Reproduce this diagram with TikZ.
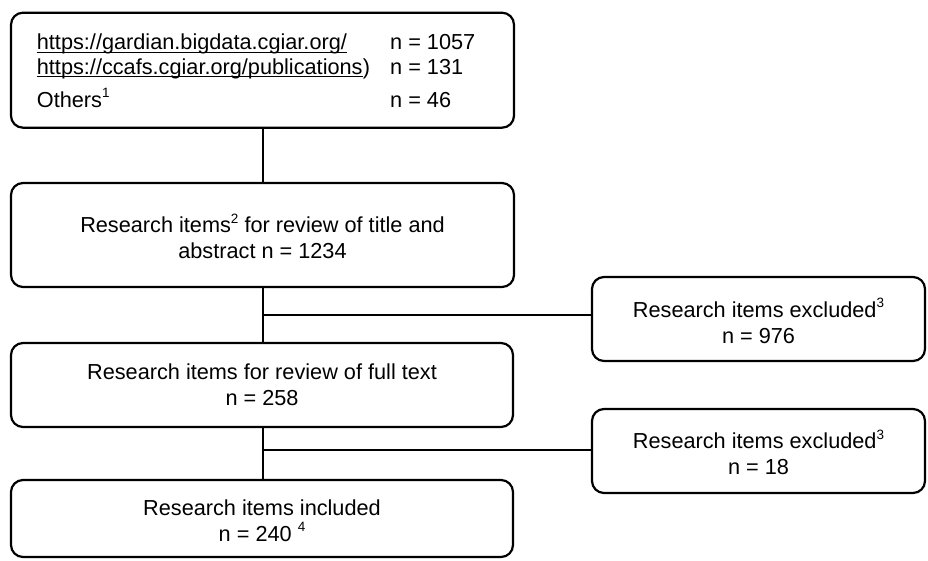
\documentclass[tikz,border=0pt]{standalone}
\usepackage{fontspec}
\setmainfont{Liberation Sans}
\usetikzlibrary{calc}
\newcommand{\supnum}[1]{\raisebox{9.5pt}{\fontsize{13.5}{14}\selectfont #1}}
\begin{document}
\begin{tikzpicture}[x=1pt,y=-1pt,
  box/.style={draw=black, line width=2.2pt, rounded corners=12pt, inner sep=0pt},
  txt/.style={inner sep=0pt, font=\fontsize{21.7}{26}\selectfont},
  ctxt/.style={txt, anchor=base},
  link/.style={draw=black, line width=2.2pt},
  uline/.style={draw=black, line width=1.1pt}]
\useasboundingbox (0,0) rectangle (928,560);
% boxes
\node[box, minimum width=503pt, minimum height=115pt] (A) at (262.5,70.2) {};
\node[box, minimum width=503pt, minimum height=104pt] (B) at (262.5,235) {};
\node[box, minimum width=502pt, minimum height=84pt] (C) at (262,385) {};
\node[box, minimum width=502pt, minimum height=77pt] (D) at (262,518.5) {};
\node[box, minimum width=333pt, minimum height=84pt] (E) at (758.5,319) {};
\node[box, minimum width=333pt, minimum height=84pt] (F) at (758.5,451) {};
% centred texts
\node[ctxt] (B1) at (262.5,232.7) {Research items\supnum{2} for review of title and};
\node[ctxt] (B2) at (262.5,258.3) {abstract n = 1234};
\node[ctxt] (C1) at (262,379) {Research items for review of full text};
\node[ctxt] (C2) at (262,405) {n = 258};
\node[ctxt] (D1) at (262,515) {Research items included};
\node[ctxt] (D2) at (262,541) {n = 240 \supnum{4}};
\node[ctxt] (E1) at (758.5,317.3) {Research items excluded\supnum{3}};
\node[ctxt] (E2) at (758.5,343.3) {n = 976};
\node[ctxt] (F1) at (758.5,448.5) {Research items excluded\supnum{3}};
\node[ctxt] (F2) at (758.5,474.5) {n = 18};
% text in first box
\node[txt, anchor=base west] (a1) at (36.7,49.5) {https://gardian.bigdata.cgiar.org/};
\node[txt, anchor=base west] (a2) at (36.7,74) {https://ccafs.cgiar.org/publications};
\node[txt, anchor=base west] (a2p) at (a2.base east) {)};
\node[txt, anchor=base west] (a3) at (36.7,107) {Others\supnum{1}};
\node[txt, anchor=base west] (n1) at (390,49.5) {n = 1057};
\node[txt, anchor=base west] (n2) at (390,74) {n = 131};
\node[txt, anchor=base west] (n3) at (390,107) {n = 46};
\draw[uline] ($(a1.base west)+(0,2.6)$) -- ($(a1.base east)+(0,2.6)$);
\draw[uline] ($(a2.base west)+(0,2.6)$) -- ($(a2.base east)+(0,2.6)$);
% connectors
\coordinate (j1) at (263,315);
\coordinate (j2) at (263,450);
\draw[link] (A.south -| j1) -- (B.north -| j1);
\draw[link] (B.south -| j1) -- (C.north -| j1);
\draw[link] (C.south -| j1) -- (D.north -| j1);
\draw[link] (j1) -- (E.west |- j1);
\draw[link] (j2) -- (F.west |- j2);
\end{tikzpicture}
\end{document}
